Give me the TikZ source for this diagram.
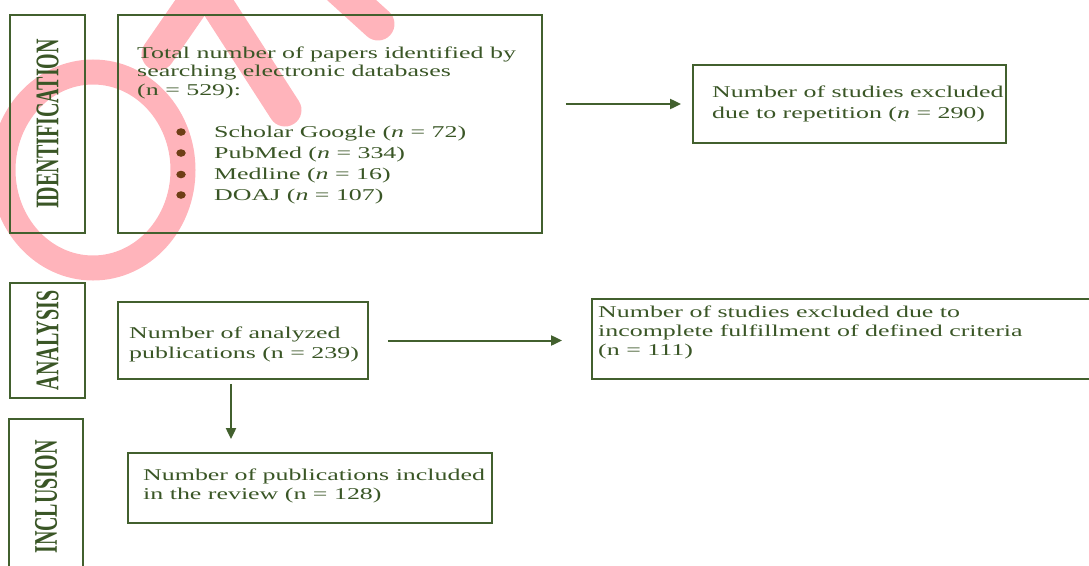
\documentclass[tikz,border=0pt]{standalone}
\usepackage{fontspec}
\setmainfont{Liberation Serif}
\usetikzlibrary{arrows.meta,shapes.geometric,calc}
\definecolor{frame}{RGB}{66,96,46}
\definecolor{txt}{RGB}{58,86,38}
\definecolor{dotc}{RGB}{110,62,22}
\definecolor{wm}{RGB}{255,40,60}
\newcommand{\sx}[1]{\scalebox{1.57}[1]{#1}}
\tikzset{
  box/.style={draw=frame, line width=1.8pt, inner sep=0pt},
  lab/.style={text=txt, inner sep=0pt, font=\fontsize{20}{20}\selectfont\bfseries},
  tx/.style={text=txt, inner sep=0pt, anchor=base west, font=\fontsize{16.5}{19}\selectfont},
  bul/.style={ellipse, fill=dotc, minimum width=9.5pt, minimum height=7.5pt, inner sep=0pt},
  arr/.style={draw=frame, line width=2pt, -{Triangle[length=11pt,width=10pt]}},
  wmark/.style={draw=wm, opacity=0.35}
}
\begin{document}
\begin{tikzpicture}[x=1pt,y=-1pt]
\path[use as bounding box, clip] (0,0) rectangle (1089,565);
% watermark (under the diagram)
\draw[wmark, line width=25pt] (93,170) ellipse (90 and 98);
\draw[wmark, line width=33pt, line cap=round, line join=round]
  (158,54) -- (205,-14) -- (285,110)
  (335,-15) -- (378,24);
% stage boxes
\node[box, minimum width=75pt, minimum height=218pt] (lid) at (47.5,124) {};
\node[box, minimum width=75pt, minimum height=115pt] (lan) at (47.5,340.5) {};
\node[box, minimum width=74pt, minimum height=156pt] (linc) at (46,497) {};
\node[lab, rotate=90] (tid) at (lid.center) {\scalebox{1}[1.65]{IDENTIFICATION}};
\node[lab, rotate=90] (tan) at (lan.center) {\scalebox{1}[1.65]{ANALYSIS}};
\node[lab, rotate=90] (tinc) at (linc.center) {\scalebox{1}[1.65]{INCLUSION}};
% content boxes
\node[box, minimum width=424pt, minimum height=218pt] (b1) at (330,124) {};
\node[box, minimum width=313pt, minimum height=78pt] (rep) at (849.5,104) {};
\node[box, minimum width=250pt, minimum height=77pt] (an) at (243,340.5) {};
\node[box, minimum width=508pt, minimum height=80pt] (crit) at (846,339) {};
\node[box, minimum width=364pt, minimum height=70pt] (inc) at (310,488) {};
% texts
\node[tx] (t1) at (137,58) {\sx{\begin{tabular}[t]{@{}l@{}}Total number of papers identified by\\[-0.5pt]searching electronic databases\\[-0.5pt](n = 529):\end{tabular}}};
\node[bul] (d1) at (181,132) {};
\node[bul] (d2) at (181,153) {};
\node[bul] (d3) at (181,174.5) {};
\node[bul] (d4) at (181,195) {};
\node[tx] (s1) at (214,137) {\sx{Scholar Google (\textit{n} = 72)}};
\node[tx] (s2) at (214,158) {\sx{PubMed (\textit{n} = 334)}};
\node[tx] (s3) at (214,179.5) {\sx{Medline (\textit{n} = 16)}};
\node[tx] (s4) at (214,200) {\sx{DOAJ (\textit{n} = 107)}};
\node[tx] (trep) at (712,97) {\sx{\begin{tabular}[t]{@{}l@{}}Number of studies excluded\\[2pt]due to repetition (\textit{n} = 290)\end{tabular}}};
\node[tx] (tan2) at (129,338) {\sx{\begin{tabular}[t]{@{}l@{}}Number of analyzed\\[1pt]publications (n = 239)\end{tabular}}};
\node[tx] (tcrit) at (598,317) {\sx{\begin{tabular}[t]{@{}l@{}}Number of studies excluded due to\\incomplete fulfillment of defined criteria\\(n = 111)\end{tabular}}};
\node[tx] (tinc2) at (143,480) {\sx{\begin{tabular}[t]{@{}l@{}}Number of publications included\\in the review (n = 128)\end{tabular}}};
% arrows
\coordinate (a1s) at ($(b1.east|-rep.west)+(23,0)$);
\coordinate (a1e) at ($(rep.west)+(-11,0)$);
\draw[arr] (a1s) -- (a1e);
\coordinate (a2s) at ($(an.east)+(19,0)$);
\coordinate (a2e) at ($(crit.west|-an.east)+(-29,0)$);
\draw[arr] (a2s) -- (a2e);
\coordinate (a3s) at ($(an.south)+(-12,4)$);
\coordinate (a3e) at ($(an.south|-inc.north)+(-12,-13)$);
\draw[arr] (a3s) -- (a3e);
\end{tikzpicture}
\end{document}
